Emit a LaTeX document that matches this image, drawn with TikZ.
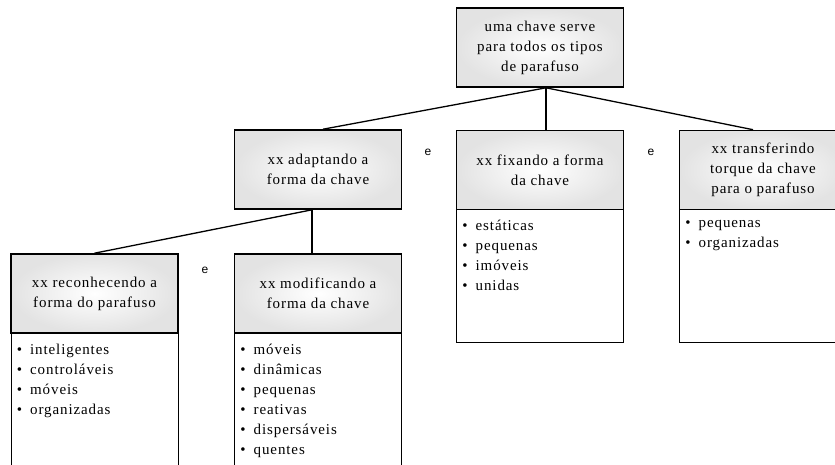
\documentclass[tikz,border=0pt]{standalone}
\usepackage{fontspec}
\setmainfont[LetterSpace=6]{Liberation Serif}
\newfontfamily\efont{Liberation Sans}
\usetikzlibrary{positioning}
\newcommand{\itm}{\textbullet\hspace{8pt}}

\begin{document}
\begin{tikzpicture}[x=1pt, y=-1pt, font=\fontsize{15}{20}\selectfont,
  hd/.style={draw, line width=1.6pt, shading=radial, inner color=white, outer color=gray!22,
    minimum width=167pt, minimum height=79pt, align=center, inner sep=2pt},
  bd/.style={draw, line width=0.6pt, minimum width=167pt},
  ls/.style={anchor=north west, align=left, inner sep=0pt},
  ln/.style={line width=1.3pt},
  conj/.style={font=\efont\fontsize{12}{14}\selectfont}]
\useasboundingbox (0,0) rectangle (835,464);
\clip (0,0) rectangle (835,464);
% bodies first, headers on top
\node[bd, minimum height=133pt, anchor=north] (fixb) at (540,209) {};
\node[bd, minimum height=133pt, anchor=north] (transb) at (763,209) {};
\node[bd, minimum height=150pt, anchor=north] (reconb) at (94.5,333) {};
\node[bd, minimum height=150pt, anchor=north] (modifb) at (318,333) {};
% headers
\node[hd] (top) at (540,47.5) {uma chave serve\\para todos os tipos\\de parafuso};
\node[hd] (adapt) at (318,169.5) {xx adaptando a\\forma da chave};
\node[hd] (fix) at (540,170) {xx fixando a forma\\da chave};
\node[hd] (trans) at (763,170) {xx transferindo\\torque da chave\\para o parafuso};
\node[hd] (recon) at (94.5,293.5) {xx reconhecendo a\\forma do parafuso};
\node[hd] (modif) at (318,293.5) {xx modificando a\\forma da chave};
% lists
\node[ls] (fixl) at ([shift={(6pt,-11pt)}]fixb.north west)
  {\itm estáticas\\\itm pequenas\\\itm imóveis\\\itm unidas};
\node[ls] (transl) at ([shift={(6pt,-11pt)}]transb.north west)
  {\itm pequenas\\\itm organizadas};
\node[ls] (reconl) at ([shift={(6pt,-11pt)}]reconb.north west)
  {\itm inteligentes\\\itm controláveis\\\itm móveis\\\itm organizadas};
\node[ls] (modifl) at ([shift={(6pt,-11pt)}]modifb.north west)
  {\itm móveis\\\itm dinâmicas\\\itm pequenas\\\itm reativas\\\itm dispersáveis\\\itm quentes};
% connectors
\draw[ln] ([xshift=6pt]top.south) -- ([xshift=5pt]adapt.north);
\draw[ln] ([xshift=6pt]top.south) -- ([xshift=6pt]fix.north);
\draw[ln] ([xshift=6pt]top.south) -- ([xshift=-10pt]trans.north);
\draw[ln] ([xshift=-6pt]adapt.south) -- (recon.north);
\draw[ln] ([xshift=-6pt]adapt.south) -- ([xshift=-6pt]modif.north);
% "e" between siblings
\node[conj] (e1) at (205,270) {e};
\node[conj] (e2) at (428,152) {e};
\node[conj] (e3) at (651,152) {e};
\end{tikzpicture}
\end{document}
